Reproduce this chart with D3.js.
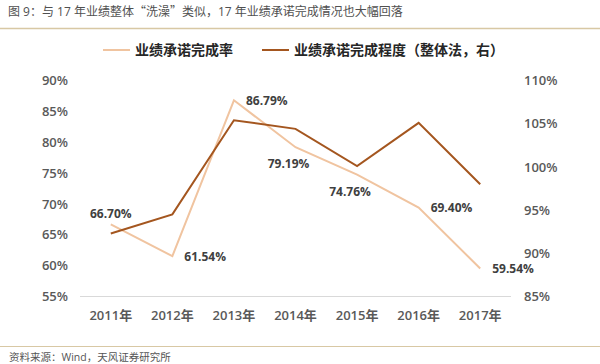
<!DOCTYPE html>
<html>
<head>
<meta charset="utf-8">
<script src="https://cdn.jsdelivr.net/npm/d3@7"></script>
<style>
	body { margin: 0; background: #fff; }
	svg { display: block; font-family: "Open Sans", "Noto Sans CJK SC", sans-serif; }
</style>
</head>
<body>
<svg id="chart" width="600" height="364"></svg>
<script>
	var years = ['2011年', '2012年', '2013年', '2014年', '2015年', '2016年', '2017年'];
	// left axis, 业绩承诺完成率
	var rateValues = [66.70, 61.54, 86.79, 79.19, 74.76, 69.40, 59.54];
	// right axis, 业绩承诺完成程度（整体法）
	var degreeValues = [92.3, 94.5, 105.4, 104.4, 100.1, 105.1, 98.0];
	var leftTicks = [55, 60, 65, 70, 75, 80, 85, 90];
	var rightTicks = [85, 90, 95, 100, 105, 110];
	// where each data label sits relative to its point
	var labelPos = ['above', 'right', 'right', 'below', 'below', 'right', 'right'];

	var lightColor = '#f0c4a0',
		darkColor = '#a4561f',
		tickColor = '#595959';

	var svg = d3.select('#chart');

	var x = d3.scaleBand().domain(years).range([80, 511]);
	var yLeft = d3.scaleLinear().domain([55, 90]).range([296.5, 80.5]);
	var yRight = d3.scaleLinear().domain([85, 110]).range([296.5, 80.5]);

	function cx(d, i) { return x(years[i]) + x.bandwidth() / 2; }

	// title + rules
	svg.append('text')
		.attr('x', 8).attr('y', 16)
		.attr('font-family', '"Open Sans", "Noto Sans CJK SC", sans-serif')
		.attr('font-size', 12).attr('fill', '#505050')
		.text('图 9：与 17 年业绩整体')
		.append('tspan').attr('font-family', '"Noto Sans CJK SC", sans-serif')
		.text('“洗澡”')
		.append('tspan').attr('font-family', '"Open Sans", "Noto Sans CJK SC", sans-serif')
		.text('类似，17 年业绩承诺完成情况也大幅回落');
	svg.append('line').attr('x1', 0).attr('x2', 600).attr('y1', 28.5).attr('y2', 28.5)
		.attr('stroke', '#d8c8a4').attr('stroke-width', 1.5);
	svg.append('line').attr('x1', 0).attr('x2', 600).attr('y1', 346.5).attr('y2', 346.5)
		.attr('stroke', '#d8c8a4').attr('stroke-width', 1);
	svg.append('text')
		.attr('x', 9).attr('y', 361)
		.attr('font-size', 10.5).attr('fill', '#555')
		.text('资料来源：Wind，天风证券研究所');

	// legend
	var legend = [
		{ name: '业绩承诺完成率', color: lightColor, x: 103 },
		{ name: '业绩承诺完成程度（整体法，右）', color: darkColor, x: 262 }
	];
	legend.forEach(function (d) {
		svg.append('line')
			.attr('x1', d.x).attr('x2', d.x + 27).attr('y1', 50).attr('y2', 50)
			.attr('stroke', d.color).attr('stroke-width', 2);
		svg.append('text')
			.attr('x', d.x + 32).attr('y', 55)
			.attr('font-size', 14).attr('font-weight', 'bold').attr('fill', '#262626')
			.text(d.name);
	});

	// baseline
	svg.append('line').attr('x1', 80).attr('x2', 511).attr('y1', 296.5).attr('y2', 296.5)
		.attr('stroke', '#d9d9d9').attr('stroke-width', 1);

	// axes
	var leftAxis = svg.append('g').attr('transform', 'translate(68,0)')
		.call(d3.axisLeft(yLeft).tickValues(leftTicks).tickSize(0).tickPadding(0)
			.tickFormat(function (d) { return d + '%'; }));
	var rightAxis = svg.append('g').attr('transform', 'translate(524,0)')
		.call(d3.axisRight(yRight).tickValues(rightTicks).tickSize(0).tickPadding(0)
			.tickFormat(function (d) { return d + '%'; }));
	var bottomAxis = svg.append('g').attr('transform', 'translate(0,296.5)')
		.call(d3.axisBottom(x).tickSize(0).tickPadding(14));

	[leftAxis, rightAxis, bottomAxis].forEach(function (g) {
		g.select('.domain').remove();
		g.selectAll('text')
			.attr('font-family', '"Open Sans", "Noto Sans CJK SC", sans-serif')
			.attr('font-size', 13).attr('font-weight', 600).attr('fill', tickColor);
	});

	// lines
	var lineLeft = d3.line().x(cx).y(function (d) { return yLeft(d); });
	var lineRight = d3.line().x(cx).y(function (d) { return yRight(d); });

	svg.append('path').datum(rateValues)
		.attr('d', lineLeft).attr('fill', 'none')
		.attr('stroke', lightColor).attr('stroke-width', 2);
	svg.append('path').datum(degreeValues)
		.attr('d', lineRight).attr('fill', 'none')
		.attr('stroke', darkColor).attr('stroke-width', 2);

	// data labels
	svg.append('g').selectAll('text')
		.data(rateValues)
		.enter().append('text')
		.attr('x', function (d, i) {
			var p = labelPos[i];
			if (p === 'right') return cx(d, i) + 12;
			if (p === 'below') return cx(d, i) - 7;
			return cx(d, i);
		})
		.attr('y', function (d, i) {
			var p = labelPos[i];
			if (p === 'above') return yLeft(d) - 6;
			if (p === 'below') return yLeft(d) + 21;
			return yLeft(d) + 4.5;
		})
		.attr('text-anchor', function (d, i) { return labelPos[i] === 'right' ? 'start' : 'middle'; })
		.attr('font-size', 12).attr('font-weight', 'bold').attr('fill', '#404040')
		.text(function (d) { return d.toFixed(2) + '%'; });
</script>
</body>
</html>
